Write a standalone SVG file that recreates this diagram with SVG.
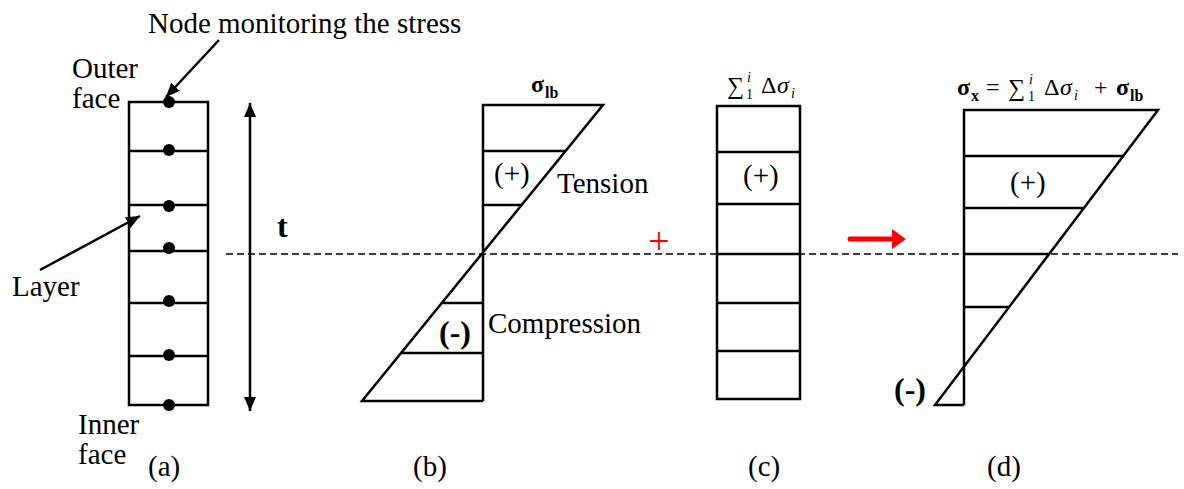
<svg xmlns="http://www.w3.org/2000/svg" width="1184" height="489" viewBox="0 0 1184 489" font-family="'Liberation Serif', 'Times New Roman', Tinos, 'DejaVu Serif', serif">
<style>
text{font-family:'Liberation Serif','Times New Roman',Tinos,'DejaVu Serif',serif;fill:#000}
.t{font-size:29px}
.m{font-size:24px}
.s{font-size:14px}
.b{font-weight:bold}
.i{font-style:italic}
.ln{stroke:#000;stroke-width:2.5;fill:none}
.dot{fill:#000}
</style>
<defs>
<marker id="ah" viewBox="0 0 14 14" refX="14" refY="7" markerWidth="14" markerHeight="14" markerUnits="userSpaceOnUse" orient="auto-start-reverse"><path d="M0,1 L14,7 L0,13 z" fill="#000"/></marker>
</defs>
<rect width="1184" height="489" fill="#fff"/>

<g id="dashed-axis"><line x1="226" y1="254" x2="1178" y2="254" stroke="#000" stroke-width="1.6" stroke-dasharray="7 4"/></g>

<g id="node-a">
<rect class="ln" x="129" y="102" width="79" height="303"/>
<line class="ln" x1="129" y1="151" x2="208" y2="151"/>
<line class="ln" x1="129" y1="205" x2="208" y2="205"/>
<line class="ln" x1="129" y1="251" x2="208" y2="251"/>
<line class="ln" x1="129" y1="303" x2="208" y2="303"/>
<line class="ln" x1="129" y1="356" x2="208" y2="356"/>
<circle class="dot" cx="169" cy="102" r="6"/>
<circle class="dot" cx="169" cy="150" r="6"/>
<circle class="dot" cx="169" cy="206" r="6"/>
<circle class="dot" cx="169" cy="248" r="6"/>
<circle class="dot" cx="169" cy="301" r="6"/>
<circle class="dot" cx="169" cy="355" r="6"/>
<circle class="dot" cx="169" cy="405" r="6"/>
<text class="t" x="148" y="33" font-family="Liberation Serif">Node monitoring the stress</text>
<text class="t" x="72" y="78" font-family="Liberation Serif">Outer</text>
<text class="t" x="72" y="108" font-family="Liberation Serif">face</text>
<text class="t" x="12" y="296" font-family="Liberation Serif">Layer</text>
<text class="t" x="78" y="434" font-family="Liberation Serif">Inner</text>
<text class="t" x="78" y="464" font-family="Liberation Serif">face</text>
<text class="t" x="148" y="476" font-family="Liberation Serif">(a)</text>
</g>

<g id="thickness">
<text class="b" x="277" y="237" font-family="Liberation Serif" font-size="32">t</text>
</g>

<g id="node-b">
<polyline class="ln" points="483,401 483,105 603,105 362,401 483,401"/>
<line class="ln" x1="483" y1="151" x2="566" y2="151"/>
<line class="ln" x1="483" y1="205" x2="522" y2="205"/>
<line class="ln" x1="443" y1="303" x2="483" y2="303"/>
<line class="ln" x1="402" y1="353" x2="483" y2="353"/>
<text class="m b" x="531" y="92" font-family="Liberation Serif">σ</text><text class="b" x="545" y="98" font-family="Liberation Serif" font-size="16">lb</text>
<text class="t" x="494" y="183" font-family="Liberation Serif">(+)</text>
<text class="t" x="557" y="193" font-family="Liberation Serif">Tension</text>
<text class="b" x="439" y="343" font-family="Liberation Serif" font-size="32">(-)</text>
<text class="t" x="488" y="333" font-family="Liberation Serif">Compression</text>
<text class="t" x="413" y="476" font-family="Liberation Serif">(b)</text>
</g>

<g id="plus-sign"><text x="659" y="254" text-anchor="middle" font-family="Liberation Serif" font-size="38" style="fill:#f00">+</text></g>

<g id="node-c">
<rect class="ln" x="717" y="106" width="83" height="293"/>
<line class="ln" x1="717" y1="152" x2="800" y2="152"/>
<line class="ln" x1="717" y1="204" x2="800" y2="204"/>
<line class="ln" x1="717" y1="254" x2="800" y2="254"/>
<line class="ln" x1="717" y1="303" x2="800" y2="303"/>
<line class="ln" x1="717" y1="351" x2="800" y2="351"/>
<text x="727" y="94" font-family="DejaVu Serif" font-size="24">∑</text>
<text class="s" x="746" y="99" font-family="Liberation Serif">1</text>
<text class="s i" x="747" y="82" font-family="Liberation Serif">i</text>
<text class="m" x="761" y="93" font-family="Liberation Serif">Δ</text>
<text class="m i" x="777" y="93" font-family="Liberation Serif">σ</text>
<text class="s i" x="791" y="98" font-family="Liberation Serif">i</text>
<text class="t" x="743" y="185" font-family="Liberation Serif">(+)</text>
<text class="t" x="748" y="476" font-family="Liberation Serif">(c)</text>
</g>

<g id="node-d">
<polyline class="ln" points="964,405 964,110 1158,110 935,405 964,405"/>
<line class="ln" x1="964" y1="156" x2="1123" y2="156"/>
<line class="ln" x1="964" y1="208" x2="1084" y2="208"/>
<line class="ln" x1="964" y1="254" x2="1049" y2="254"/>
<line class="ln" x1="964" y1="307" x2="1009" y2="307"/>
<text class="m b" x="957" y="95" font-family="Liberation Serif">σ</text><text class="b" x="971" y="101" font-family="Liberation Serif" font-size="16">x</text>
<text class="m" x="986" y="95" font-family="Liberation Serif">=</text>
<text x="1008" y="96" font-family="DejaVu Serif" font-size="24">∑</text>
<text class="s" x="1028" y="101" font-family="Liberation Serif">1</text>
<text class="s i" x="1029" y="84" font-family="Liberation Serif">i</text>
<text class="m" x="1044" y="95" font-family="Liberation Serif">Δ</text>
<text class="m i" x="1060" y="95" font-family="Liberation Serif">σ</text>
<text class="s i" x="1074" y="100" font-family="Liberation Serif">i</text>
<text class="m" x="1094" y="95" font-family="Liberation Serif">+</text>
<text class="m b" x="1116" y="95" font-family="Liberation Serif">σ</text><text class="b" x="1130" y="101" font-family="Liberation Serif" font-size="16">lb</text>
<text class="t" x="1010" y="192" font-family="Liberation Serif">(+)</text>
<text class="b" x="894" y="400" font-family="Liberation Serif" font-size="32">(-)</text>
<text class="t" x="987" y="476" font-family="Liberation Serif">(d)</text>
</g>

<g id="connectors">
<line class="ln" x1="219" y1="40" x2="166" y2="97" marker-end="url(#ah)"/>
<line class="ln" x1="40" y1="270" x2="140" y2="216" marker-end="url(#ah)"/>
<line class="ln" x1="250" y1="103" x2="250" y2="411" marker-start="url(#ah)" marker-end="url(#ah)"/>
<line x1="850" y1="239" x2="893" y2="239" stroke="#f00" stroke-width="5" stroke-linecap="round"/>
<path d="M892,229 L906,239 L892,249 z" fill="#f00"/>
</g>
</svg>
